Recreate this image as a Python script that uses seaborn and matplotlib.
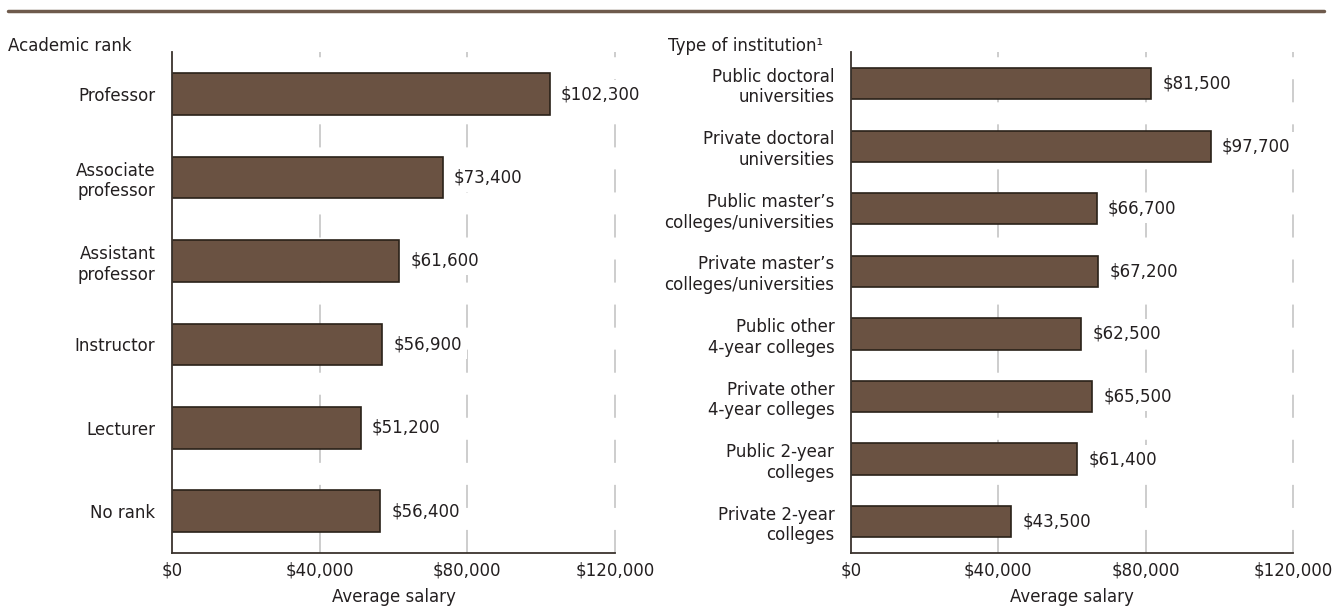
import matplotlib
matplotlib.use('Agg')
import matplotlib.pyplot as plt
import seaborn as sns
from matplotlib.lines import Line2D

# Data
rank_labels = ['Professor', 'Associate\nprofessor', 'Assistant\nprofessor',
               'Instructor', 'Lecturer', 'No rank']
rank_salary = [102300, 73400, 61600, 56900, 51200, 56400]

inst_labels = ['Public doctoral\nuniversities', 'Private doctoral\nuniversities',
               'Public master\u2019s\ncolleges/universities',
               'Private master\u2019s\ncolleges/universities',
               'Public other\n4-year colleges', 'Private other\n4-year colleges',
               'Public 2-year\ncolleges', 'Private 2-year\ncolleges']
inst_salary = [81500, 97700, 66700, 67200, 62500, 65500, 61400, 43500]

x_ticks = [0, 40000, 80000, 120000]
x_ticklabels = ['$0', '$40,000', '$80,000', '$120,000']

bar_color = '#6a5242'
edge_color = '#2a2119'
text_color = '#231f20'
grid_color = '#c0c0c0'

sns.set_style('white')
plt.rcParams['font.family'] = ['DejaVu Sans']
plt.rcParams['text.color'] = text_color

fig = plt.figure(figsize=(13.37, 6.09), dpi=100)
ax1 = fig.add_axes([0.1286, 0.092, 0.3314, 0.822])
ax2 = fig.add_axes([0.6365, 0.092, 0.3305, 0.822])


def draw_panel(ax, labels, values):
    # dashed gridlines; bars and white-boxed labels sit on top of them
    for t in x_ticks[1:]:
        ax.axvline(t, color=grid_color, linewidth=1.1,
                   linestyle=(0, (15.1, 14.4)), zorder=0, clip_on=False)
    sns.barplot(x=values, y=labels, orient='h', color=bar_color, edgecolor=edge_color,
                linewidth=1.2, width=0.5, saturation=1, ax=ax)
    for p in ax.patches:
        p.set_zorder(2)
    ax.bar_label(ax.containers[-1], labels=[f'${v:,.0f}' for v in values],
                 padding=8, fontsize=12, color=text_color, zorder=3,
                 bbox=dict(facecolor='white', edgecolor='none', pad=4))
    ax.set_xlim(0, 120000)
    ax.set_ylim(len(values) - 0.5, -0.5)
    ax.set_xticks(x_ticks)
    ax.set_xticklabels(x_ticklabels, fontsize=12, color=text_color)
    ax.tick_params(axis='y', labelsize=12, length=0, pad=12, colors=text_color)
    ax.tick_params(axis='x', length=0, pad=6)
    ax.set_ylabel('')
    ax.set_xlabel('Average salary', fontsize=12, color=text_color, labelpad=6)
    for s in ['top', 'right']:
        ax.spines[s].set_visible(False)
    for s in ['left', 'bottom']:
        ax.spines[s].set_color('#3a332d')
        ax.spines[s].set_linewidth(1.3)
        ax.spines[s].set_zorder(4)


draw_panel(ax1, rank_labels, rank_salary)
draw_panel(ax2, inst_labels, inst_salary)

fig.add_artist(Line2D([0.006, 0.99], [0.982, 0.982], color='#6e5a4c', linewidth=2.5))
fig.text(0.006, 1 - 46 / 609, 'Academic rank', fontsize=12, va='center', ha='left')
fig.text(0.4996, 1 - 46 / 609, 'Type of institution\u00b9', fontsize=12, va='center', ha='left')

fig.savefig('out.png', dpi=100)
